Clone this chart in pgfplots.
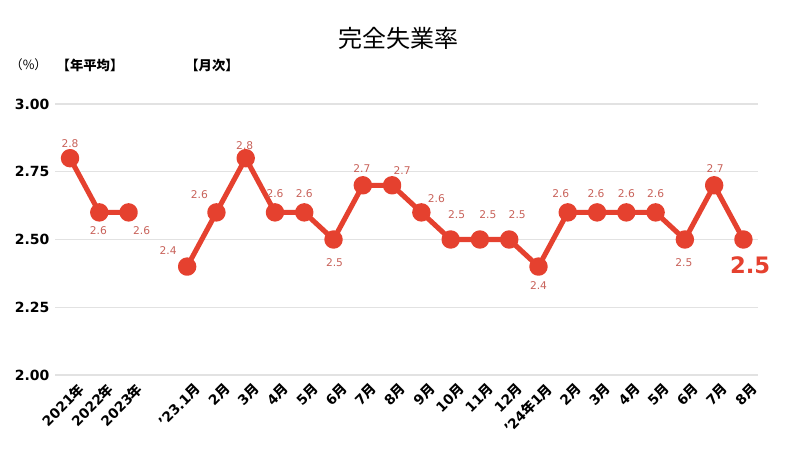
\documentclass[border=0pt]{standalone}
\usepackage{pgfplots}
\pgfplotsset{compat=1.18}
\usepackage{pgfplotstable}
\usepackage{fontspec}
\setmainfont{DejaVu Sans}
\newfontfamily\cjk{Noto Sans CJK JP}
\definecolor{linered}{HTML}{E5412F}
\definecolor{labred}{HTML}{C8625A}
\definecolor{gridgray}{HTML}{E2E2E2}

\pgfplotstableread{
x y dx dy
0 2.8 0 15
1 2.6 -1 -18
2 2.6 13 -18
4 2.4 -19 16
5 2.6 -17 18
6 2.8 -1 13
7 2.6 0 19
8 2.6 0 19
9 2.5 1 -23
10 2.7 -1 17
11 2.7 10 15
12 2.6 15 14
13 2.5 6 25
14 2.5 8 25
15 2.5 8 25
16 2.4 0 -19
17 2.6 -7 19
18 2.6 -1 19
19 2.6 0 19
20 2.6 0 19
21 2.5 -1 -23
22 2.7 1 17
}\labels

\begin{document}
\begin{tikzpicture}
\path[use as bounding box] (0pt,0pt) rectangle (600pt,339.75pt);
\node[font=\cjk\fontsize{18}{18}\selectfont] at (298.5pt,311.25pt) {完全失業率};
\node[font=\cjk\fontsize{9.5}{10}\selectfont] at (21.5pt,291pt) {（\%）};
\node[font=\cjk\bfseries\fontsize{10}{10}\selectfont] at (67.5pt,291pt) {【年平均】};
\node[font=\cjk\bfseries\fontsize{10}{10}\selectfont] at (159pt,291pt) {【月次】};
\begin{axis}[
  at={(41.55pt,58.5pt)}, anchor=south west,
  scale only axis, width=527pt, height=203.25pt,
  xmin=-0.5, xmax=23.5, ymin=2, ymax=3,
  clip=false,
  axis line style={draw=none},
  major tick length=0pt,
  ytick={2,2.25,2.5,2.75,3},
  ymajorgrids, grid style={gridgray, line width=0.8pt},
  yticklabel style={font=\bfseries\fontsize{10.5}{11}\selectfont, xshift=-1pt},
  /pgf/number format/assume math mode=true,
  /pgf/number format/.cd, fixed, fixed zerofill, precision=2, /pgfplots/.cd,
  xtick={0,1,2,4,5,6,7,8,9,10,11,12,13,14,15,16,17,18,19,20,21,22,23},
  xticklabels={2021{\cjk 年},2022{\cjk 年},2023{\cjk 年},’23.1{\cjk 月},2{\cjk 月},3{\cjk 月},4{\cjk 月},5{\cjk 月},6{\cjk 月},7{\cjk 月},8{\cjk 月},9{\cjk 月},10{\cjk 月},11{\cjk 月},12{\cjk 月},’24{\cjk 年}1{\cjk 月},2{\cjk 月},3{\cjk 月},4{\cjk 月},5{\cjk 月},6{\cjk 月},7{\cjk 月},8{\cjk 月}},
  xticklabel style={font=\bfseries\fontsize{10.3}{11}\selectfont, rotate=45, anchor=north east, inner sep=1pt, yshift=-6pt, xshift=1pt},
]
\addplot[linered, line width=3.8pt, mark=*, mark size=5pt, line join=round] coordinates {(0,2.8) (1,2.6) (2,2.6)};
\addplot[linered, line width=3.8pt, mark=*, mark size=5pt, line join=round] coordinates {
(4,2.4) (5,2.6) (6,2.8) (7,2.6) (8,2.6) (9,2.5) (10,2.7) (11,2.7) (12,2.6) (13,2.5) (14,2.5) (15,2.5) (16,2.4) (17,2.6) (18,2.6) (19,2.6) (20,2.6) (21,2.5) (22,2.7) (23,2.5)};
\addplot[draw=none, mark=none, point meta=explicit,
  visualization depends on={\thisrow{dx} \as \dx},
  visualization depends on={\thisrow{dy} \as \dy},
  nodes near coords={\pgfmathprintnumber[fixed,precision=1]{\pgfplotspointmeta}},
  every node near coord/.style={anchor=center, xshift=0.75*\dx pt, yshift=0.75*\dy pt, text=labred, font=\fontsize{8}{8}\selectfont, inner sep=0pt}
] table[x=x, y=y, meta=y] {\labels};
\addplot[draw=none, mark=none, point meta=explicit,
  nodes near coords={\pgfmathprintnumber[fixed,precision=1]{\pgfplotspointmeta}},
  every node near coord/.style={anchor=center, xshift=5pt, yshift=-19pt, text=linered, font=\bfseries\fontsize{17}{18}\selectfont, inner sep=0pt}
] coordinates {(23,2.5) [2.5]};
\end{axis}
\end{tikzpicture}
\end{document}
